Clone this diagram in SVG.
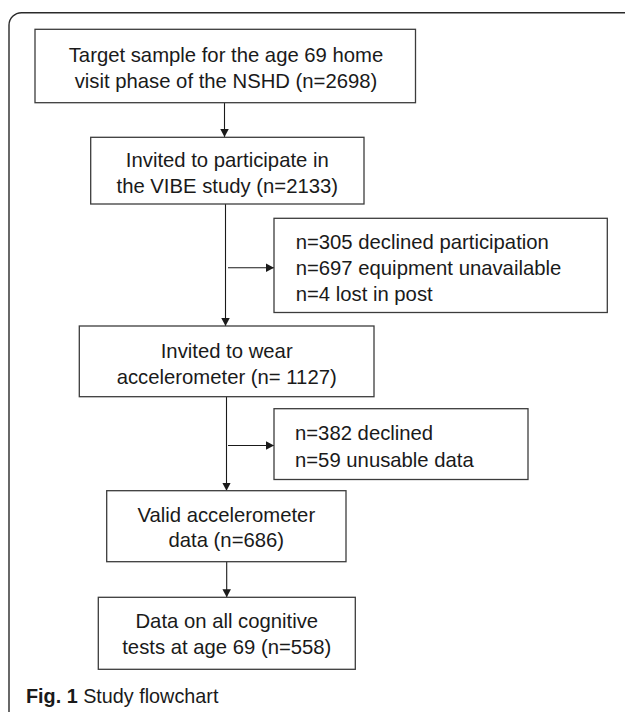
<svg xmlns="http://www.w3.org/2000/svg" width="625" height="712" viewBox="0 0 625 712">
  <style>
    .box { fill: #ffffff; stroke: #3c3c3c; stroke-width: 1.3; }
    .t { font-family: "Liberation Sans", Arial, sans-serif; font-size: 20.3px; fill: #1a1a1a; }
    .c { text-anchor: middle; }
    .conn { stroke: #1a1a1a; stroke-width: 1.1; fill: none; }
    .frame { stroke: #2a2a2a; stroke-width: 1.4; fill: none; }
    .cap { font-family: "Liberation Sans", Arial, sans-serif; font-size: 19.8px; fill: #1a1a1a; }
  </style>
  <defs>
    <marker id="arr" viewBox="0 0 8 8" refX="8" refY="4" markerWidth="8" markerHeight="8.5" markerUnits="userSpaceOnUse" orient="auto" preserveAspectRatio="none">
      <path d="M0,0 L8,4 L0,8 z" fill="#1a1a1a"/>
    </marker>
  </defs>
  <rect width="625" height="712" fill="#ffffff"/>
  <path class="frame" d="M9,712 L9,25 A12.5,12.5 0 0 1 21.5,12.7 L626,12.7"/>

  <g id="connectors">
    <line class="conn" x1="224.5" y1="103" x2="224.5" y2="137" marker-end="url(#arr)"/>
    <line class="conn" x1="225.5" y1="204" x2="225.5" y2="326" marker-end="url(#arr)"/>
    <line class="conn" x1="228" y1="267.7" x2="274" y2="267.7" marker-end="url(#arr)"/>
    <line class="conn" x1="226.5" y1="397" x2="226.5" y2="490.7" marker-end="url(#arr)"/>
    <line class="conn" x1="228" y1="445.5" x2="274" y2="445.5" marker-end="url(#arr)"/>
    <line class="conn" x1="226.7" y1="562" x2="226.7" y2="597.3" marker-end="url(#arr)"/>
  </g>

  <g id="n1">
    <rect class="box" x="35" y="29.3" width="380.5" height="73.4"/>
    <text class="t c" x="226" y="62">Target sample for the age 69 home</text>
    <text class="t c" x="226" y="87.5">visit phase of the NSHD (n=2698)</text>
  </g>
  <g id="n2">
    <rect class="box" x="90.7" y="137.3" width="273.3" height="66.7"/>
    <text class="t c" x="227.3" y="166.5">Invited to participate in</text>
    <text class="t c" x="227.3" y="192.5">the VIBE study (n=2133)</text>
  </g>
  <g id="n3">
    <rect class="box" x="274" y="218.3" width="333.3" height="94.2"/>
    <text class="t" x="295.7" y="249">n=305 declined participation</text>
    <text class="t" x="295.7" y="275">n=697 equipment unavailable</text>
    <text class="t" x="295.7" y="301">n=4 lost in post</text>
  </g>
  <g id="n4">
    <rect class="box" x="79.3" y="326" width="294.7" height="70.7"/>
    <text class="t c" x="226.7" y="357.5">Invited to wear</text>
    <text class="t c" x="226.7" y="383.5">accelerometer (n= 1127)</text>
  </g>
  <g id="n5">
    <rect class="box" x="274" y="408.7" width="254" height="70.8"/>
    <text class="t" x="295" y="440">n=382 declined</text>
    <text class="t" x="295" y="466.5">n=59 unusable data</text>
  </g>
  <g id="n6">
    <rect class="box" x="106.7" y="490.7" width="239.3" height="71"/>
    <text class="t c" x="226.3" y="521.7">Valid accelerometer</text>
    <text class="t c" x="226.3" y="547">data (n=686)</text>
  </g>
  <g id="n7">
    <rect class="box" x="98.3" y="597.3" width="257" height="72"/>
    <text class="t c" x="226.8" y="628">Data on all cognitive</text>
    <text class="t c" x="226.8" y="653.5">tests at age 69 (n=558)</text>
  </g>

  <text class="cap" x="26" y="702.7"><tspan font-weight="bold">Fig. 1</tspan> Study flowchart</text>
</svg>
